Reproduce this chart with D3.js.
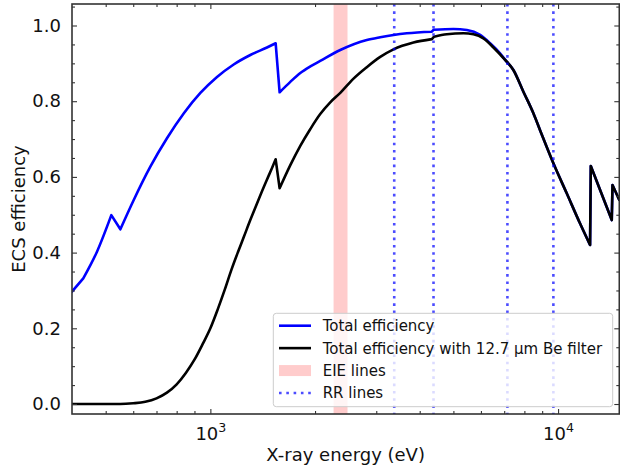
<!DOCTYPE html>
<html>
<head>
<meta charset="utf-8">
<script src="https://cdn.jsdelivr.net/npm/d3@7/dist/d3.min.js"></script>
<style>
  html, body { margin: 0; padding: 0; background: #fff; }
  svg { display: block; font-family: "DejaVu Sans", sans-serif; }
</style>
</head>
<body>
<svg id="chart" width="620" height="471"></svg>
<script>
// ---------------- data ----------------
const totalEnergy = [400, 431, 472, 519, 551, 602, 672, 751, 838, 936, 1045, 1167, 1303, 1455, 1541,
  1582, 1698, 1814, 1939, 2070, 2364, 2818, 3080, 3363, 3674, 4335, 4390, 5001, 5466, 5970, 6375, 6809, 7120,
  7438, 7948, 8492, 8870, 9694, 10590, 11560, 12360, 12420, 14270, 14340, 15000];
const totalEff = [0.297, 0.332, 0.4025, 0.499, 0.4616, 0.539, 0.627, 0.7028, 0.7675, 0.8217, 0.8639, 0.897, 0.922, 0.9419, 0.953,
  0.8235, 0.851, 0.8745, 0.892, 0.9065, 0.9353, 0.9617, 0.969, 0.975, 0.9794, 0.9836, 0.9889, 0.9908, 0.9881, 0.975, 0.953, 0.9265, 0.904,
  0.8824, 0.825, 0.768, 0.724, 0.636, 0.5567, 0.4774, 0.4201, 0.629, 0.486, 0.5786, 0.539];
const totalEdges = [431, 551, 1582, 4390, 12420, 14340];

const beEnergy = [400, 550, 600, 650, 700, 750, 800, 850, 900, 950, 1000, 1050, 1100, 1150, 1200, 1250, 1300, 1350, 1400, 1450, 1500, 1541,
  1582, 1698, 1814, 1939, 2070, 2212, 2364, 2576, 2818, 3080, 3363, 3838, 4335, 4400, 4787, 5346, 5709, 6099, 6518, 6964,
  7438, 7948, 8492, 8870, 9694, 10590, 11560, 12360, 12420, 14270, 14340, 15000];
const beEff = [0.0, 0.0, 0.002, 0.006, 0.015, 0.030, 0.052, 0.082, 0.117, 0.158, 0.200, 0.250, 0.302, 0.355, 0.401, 0.443, 0.484, 0.521, 0.557, 0.590, 0.621, 0.6465,
  0.570, 0.631, 0.682, 0.7266, 0.766, 0.797, 0.822, 0.859, 0.890, 0.917, 0.937, 0.955, 0.964, 0.9705, 0.9768, 0.9794, 0.9768, 0.9662, 0.942, 0.914,
  0.8824, 0.825, 0.768, 0.724, 0.636, 0.5567, 0.4774, 0.4201, 0.629, 0.486, 0.5786, 0.539];
const beEdges = [1582, 4400, 12420, 14340];

const eieBand = [2261, 2480];
const rrLines = [3379, 4383, 7150, 9694];

const xDomain = [400, 15000];
const yDomain = [-0.0264, 1.0568];
const xMajorTicks = [1000, 10000];
const xMinorTicks = [500, 600, 700, 800, 900, 2000, 3000, 4000, 5000, 6000, 7000, 8000, 9000];
const yMajorTicks = [0.0, 0.2, 0.4, 0.6, 0.8, 1.0];
const yMinorTicks = [0.05, 0.1, 0.15, 0.25, 0.3, 0.35, 0.45, 0.5, 0.55, 0.65, 0.7, 0.75, 0.85, 0.9, 0.95, 1.05];

const legendLabels = ["Total efficiency", "Total efficiency with 12.7 µm Be filter", "EIE lines", "RR lines"];

// ---------------- layout ----------------
const W = 620, H = 471;
const margin = { left: 72, right: 0.7, top: 4, bottom: 57 };
const iw = W - margin.left - margin.right;
const ih = H - margin.top - margin.bottom;

const svg = d3.select("#chart");
const g = svg.append("g").attr("transform", `translate(${margin.left},${margin.top})`);

const x = d3.scaleLog().domain(xDomain).range([0, iw]);
const y = d3.scaleLinear().domain(yDomain).range([ih, 0]);

svg.append("defs").append("clipPath").attr("id", "plotclip")
  .append("rect").attr("width", iw).attr("height", ih);

const plot = g.append("g").attr("clip-path", "url(#plotclip)");

// EIE band
plot.append("rect")
  .attr("x", x(eieBand[0]))
  .attr("width", x(eieBand[1]) - x(eieBand[0]))
  .attr("y", 0).attr("height", ih)
  .attr("fill", "#ff0000").attr("fill-opacity", 0.2);

// smooth between absorption edges, straight jumps at the edges
const smooth = d3.line().x(d => x(d[0])).y(d => y(d[1])).curve(d3.curveMonotoneX);
function edgePath(energies, values, edges) {
  const pts = energies.map((e, i) => [e, values[i]]);
  const segs = [];
  let cur = [];
  pts.forEach(p => {
    if (edges.includes(p[0]) && cur.length) { segs.push(cur); cur = []; }
    cur.push(p);
  });
  if (cur.length) segs.push(cur);
  let d = "";
  segs.forEach((s, k) => {
    let part;
    if (s.length >= 2) part = smooth(s);
    else part = `M${x(s[0][0])},${y(s[0][1])}`;
    if (k > 0) part = "L" + part.slice(1);
    d += part;
  });
  return d;
}

plot.append("path")
  .attr("d", edgePath(totalEnergy, totalEff, totalEdges)).attr("fill", "none")
  .attr("stroke", "#0000ff").attr("stroke-width", 2.6)
  .attr("stroke-linejoin", "round").attr("stroke-linecap", "round");

plot.append("path")
  .attr("d", edgePath(beEnergy, beEff, beEdges)).attr("fill", "none")
  .attr("stroke", "#000000").attr("stroke-width", 2.6)
  .attr("stroke-linejoin", "round").attr("stroke-linecap", "round");

// RR lines
plot.selectAll("line.rr").data(rrLines).enter().append("line")
  .attr("class", "rr")
  .attr("x1", d => x(d)).attr("x2", d => x(d))
  .attr("y1", 0).attr("y2", ih)
  .attr("stroke", "#0000ff").attr("stroke-opacity", 0.7)
  .attr("stroke-width", 2.6).attr("stroke-dasharray", "2.6 4.7");

// ---------------- axes ----------------
const tickColor = "#333";
function styleAxis(sel) {
  sel.select(".domain").remove();
  sel.selectAll(".tick line").attr("stroke", tickColor).attr("stroke-width", 1.1);
  sel.selectAll(".tick text").attr("fill", "#111").style("font-family", "DejaVu Sans").style("font-size", "18px");
}

// bottom
const xb = g.append("g").attr("transform", `translate(0,${ih})`)
  .call(d3.axisBottom(x).tickValues(xMajorTicks).tickSizeInner(-5).tickSizeOuter(0).tickPadding(13.5));
styleAxis(xb);
xb.selectAll(".tick text").each(function (d) {
  const t = d3.select(this);
  t.text("");
  t.append("tspan").text("10");
  t.append("tspan").attr("dy", "-8").style("font-size", "12.6px").text(String(Math.round(Math.log10(d))));
});
const xbm = g.append("g").attr("transform", `translate(0,${ih})`)
  .call(d3.axisBottom(x).tickValues(xMinorTicks).tickSizeInner(-3).tickSizeOuter(0).tickFormat(""));
styleAxis(xbm);

// top
const xt = g.append("g").call(d3.axisTop(x).tickValues(xMajorTicks).tickSizeInner(-5).tickSizeOuter(0).tickFormat(""));
styleAxis(xt);
const xtm = g.append("g").call(d3.axisTop(x).tickValues(xMinorTicks).tickSizeInner(-3).tickSizeOuter(0).tickFormat(""));
styleAxis(xtm);

// left
const yl = g.append("g")
  .call(d3.axisLeft(y).tickValues(yMajorTicks).tickSizeInner(-5).tickSizeOuter(0).tickPadding(11).tickFormat(d3.format(".1f")));
styleAxis(yl);
const ylm = g.append("g")
  .call(d3.axisLeft(y).tickValues(yMinorTicks).tickSizeInner(-3).tickSizeOuter(0).tickFormat(""));
styleAxis(ylm);

// right
const yr = g.append("g").attr("transform", `translate(${iw},0)`)
  .call(d3.axisRight(y).tickValues(yMajorTicks).tickSizeInner(-5).tickSizeOuter(0).tickFormat(""));
styleAxis(yr);
const yrm = g.append("g").attr("transform", `translate(${iw},0)`)
  .call(d3.axisRight(y).tickValues(yMinorTicks).tickSizeInner(-3).tickSizeOuter(0).tickFormat(""));
styleAxis(yrm);

// frame
g.append("rect").attr("width", iw).attr("height", ih)
  .attr("fill", "none").attr("stroke", tickColor).attr("stroke-width", 1.6);

// axis labels
svg.append("text")
  .attr("x", margin.left + iw / 2).attr("y", 461)
  .attr("text-anchor", "middle").style("font-size", "18px").attr("fill", "#111")
  .text("X-ray energy (eV)");
svg.append("text")
  .attr("transform", `translate(25,${margin.top + ih / 2}) rotate(-90)`)
  .attr("text-anchor", "middle").style("font-size", "18px").attr("fill", "#111")
  .text("ECS efficiency");

// ---------------- legend ----------------
const lg = svg.append("g");
const lx = 273.3, ly = 313.3, lw = 339.4, lh = 93.4;
lg.append("rect").attr("x", lx).attr("y", ly).attr("width", lw).attr("height", lh)
  .attr("rx", 3).attr("ry", 3)
  .attr("fill", "#fff").attr("fill-opacity", 0.8)
  .attr("stroke", "#ccc").attr("stroke-width", 1);

const rowY = i => 325.7 + i * 22.43;
const hx0 = 279, hx1 = 311;
legendLabels.forEach((lab, i) => {
  const yy = rowY(i);
  if (i === 0 || i === 1) {
    lg.append("line").attr("x1", hx0).attr("x2", hx1).attr("y1", yy).attr("y2", yy)
      .attr("stroke", i === 0 ? "#0000ff" : "#000").attr("stroke-width", 2.6);
  } else if (i === 2) {
    lg.append("rect").attr("x", hx0).attr("y", yy - 5.5).attr("width", hx1 - hx0).attr("height", 11)
      .attr("fill", "#ff0000").attr("fill-opacity", 0.2);
  } else {
    lg.append("line").attr("x1", hx0).attr("x2", hx1).attr("y1", yy).attr("y2", yy)
      .attr("stroke", "#0000ff").attr("stroke-opacity", 0.7)
      .attr("stroke-width", 2.6).attr("stroke-dasharray", "2.6 4.7");
  }
  lg.append("text").attr("x", 322.7).attr("y", yy).attr("dy", "0.36em")
    .style("font-size", "15px").attr("fill", "#111").text(lab);
});
</script>
</body>
</html>
